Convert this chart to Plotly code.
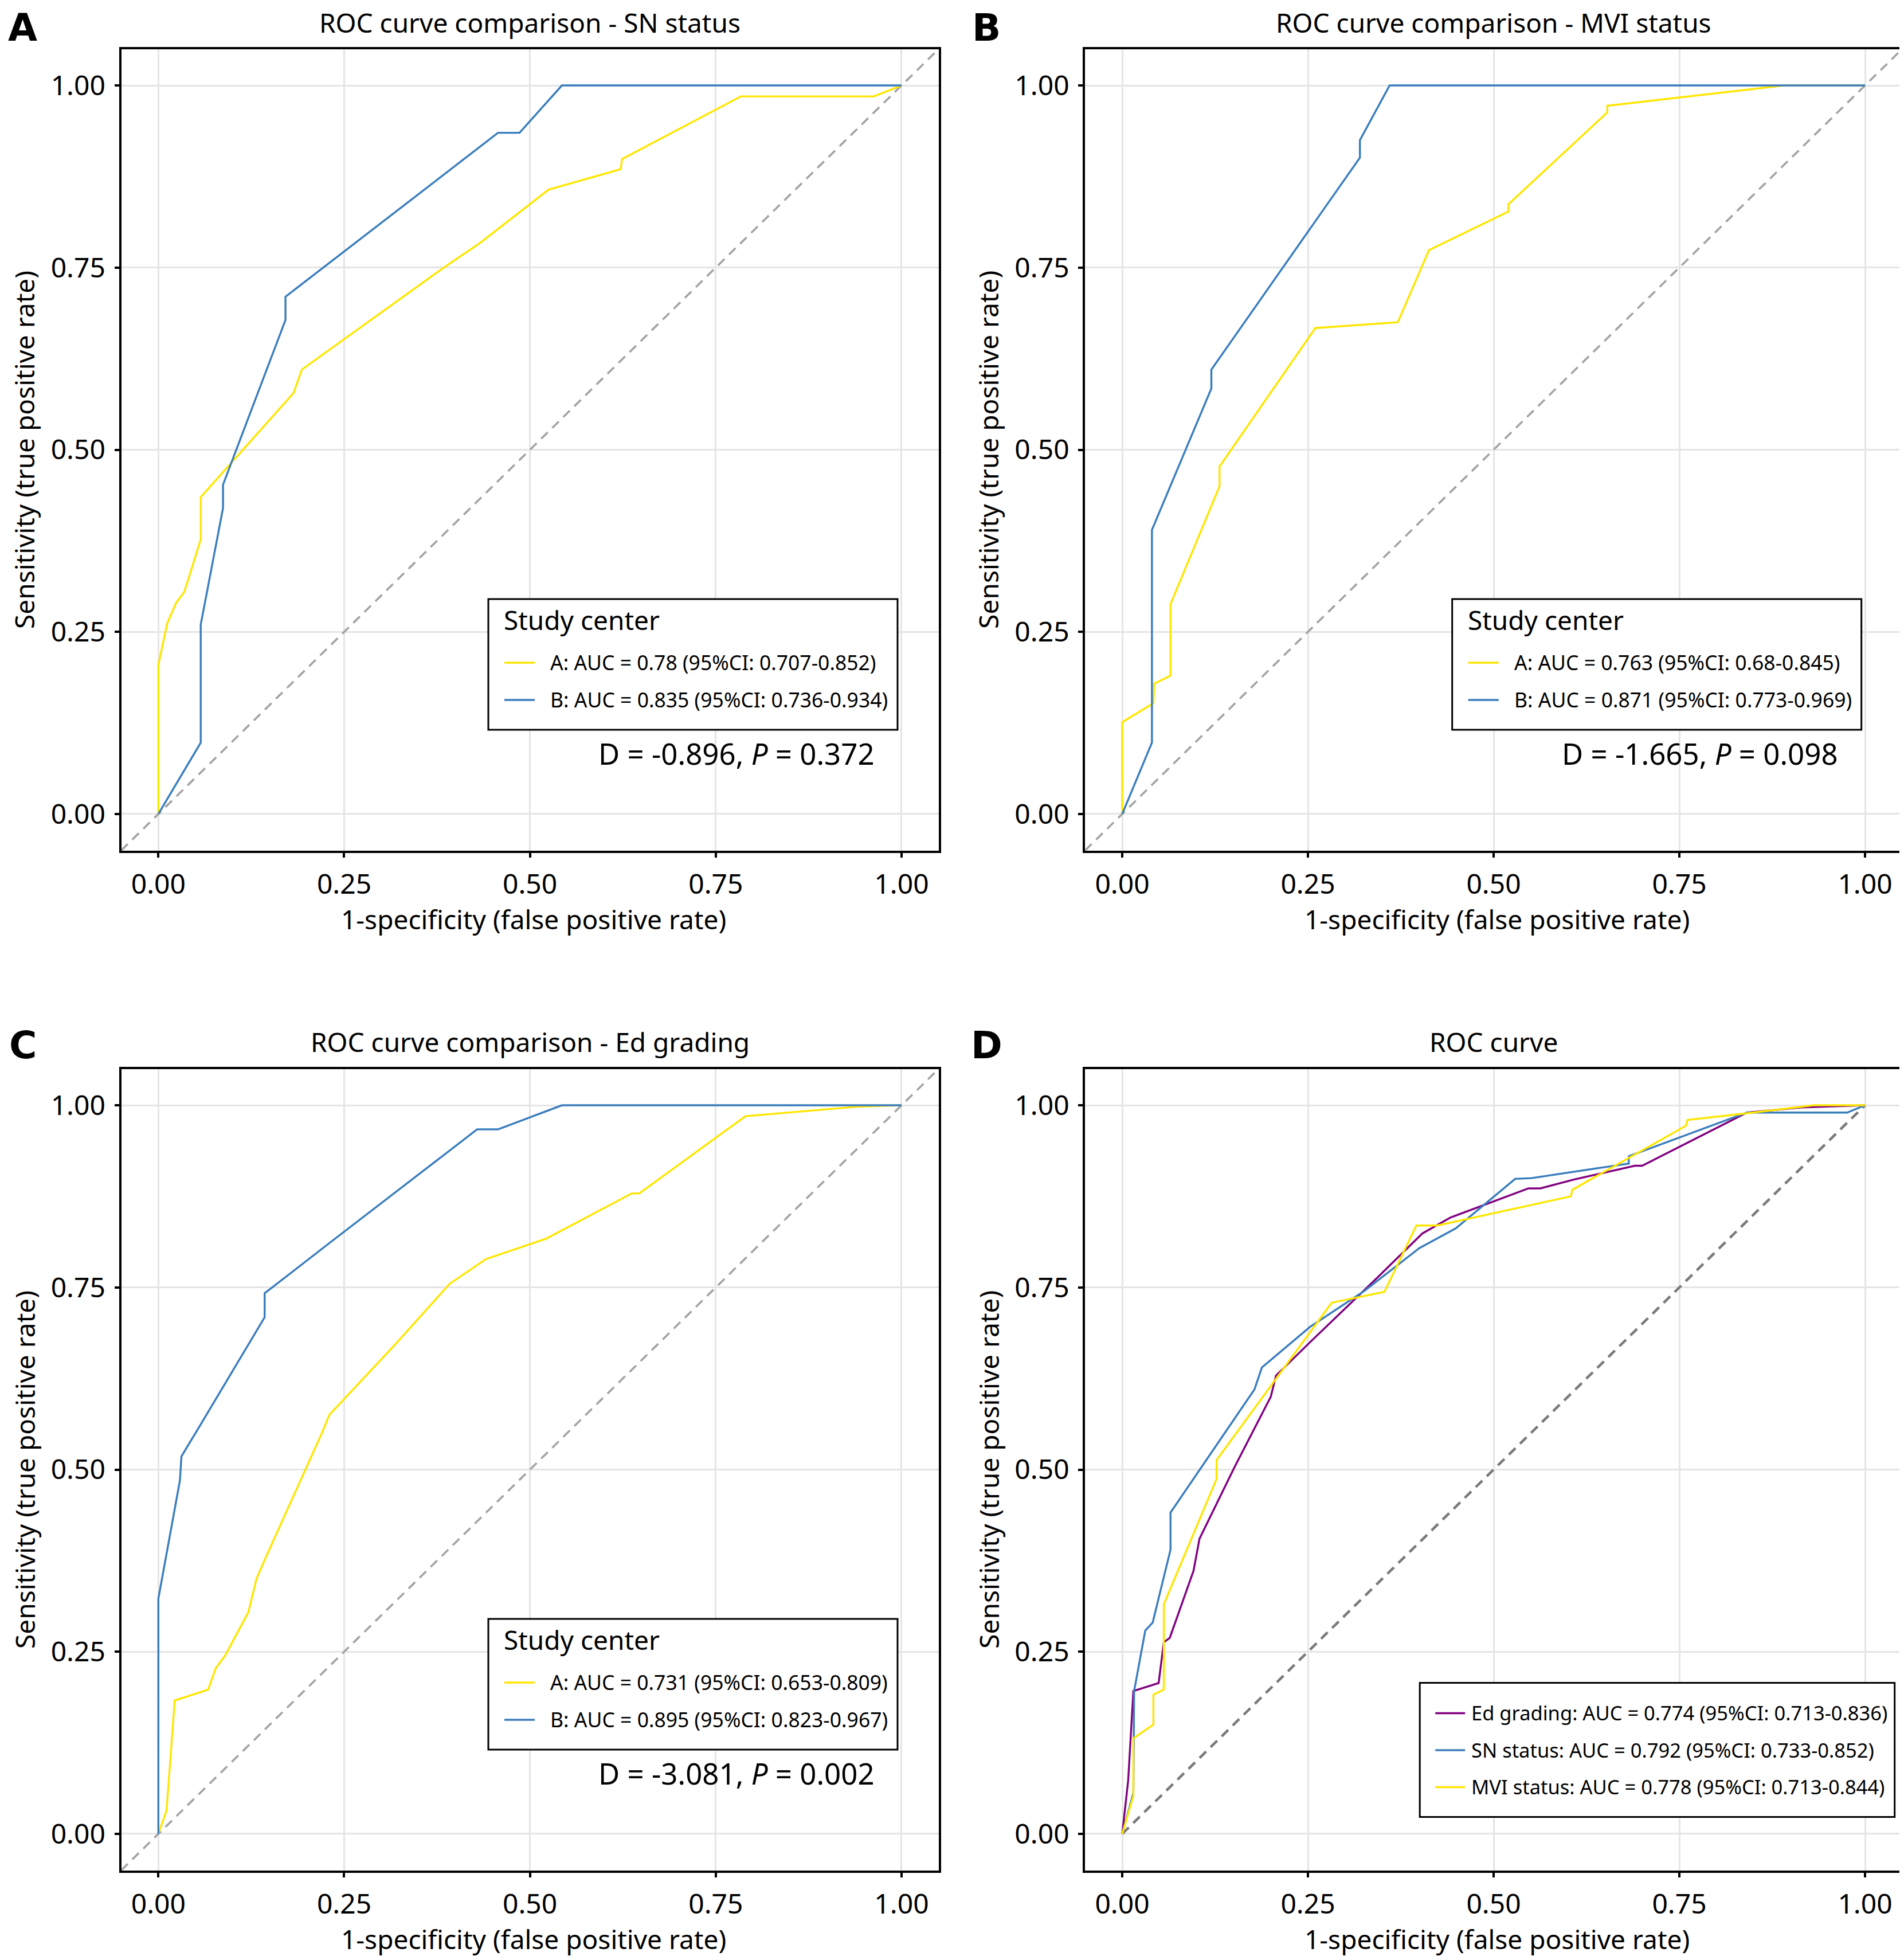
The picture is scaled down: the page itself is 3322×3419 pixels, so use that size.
import plotly.graph_objects as go

W, H = 3322, 3419
OFF = 8  # page body margin of the html page
FW, FH = W - OFF, H - OFF
FONT = "Noto Sans"

# ---------------- data ----------------
tick_vals = [0, 0.25, 0.5, 0.75, 1.0]
tick_text = ["0.00", "0.25", "0.50", "0.75", "1.00"]

# Panel A: SN status
a_centerA_fpr = [0, 0, 0.012, 0.024, 0.035, 0.057, 0.057, 0.182, 0.193, 0.384, 0.433, 0.525, 0.622, 0.624, 0.784, 0.963, 1]
a_centerA_tpr = [0, 0.205, 0.262, 0.29, 0.305, 0.377, 0.435, 0.578, 0.61, 0.75, 0.784, 0.857, 0.885, 0.899, 0.985, 0.985, 1]
a_centerB_fpr = [0, 0.057, 0.057, 0.087, 0.087, 0.171, 0.171, 0.457, 0.486, 0.543, 1]
a_centerB_tpr = [0, 0.098, 0.26, 0.42, 0.452, 0.678, 0.71, 0.935, 0.935, 1, 1]

# Panel B: MVI status
b_centerA_fpr = [0, 0, 0.042, 0.043, 0.065, 0.065, 0.131, 0.131, 0.26, 0.371, 0.413, 0.52, 0.52, 0.653, 0.653, 0.891, 1]
b_centerA_tpr = [0, 0.126, 0.152, 0.179, 0.19, 0.288, 0.45, 0.477, 0.667, 0.675, 0.774, 0.827, 0.837, 0.963, 0.972, 1, 1]
b_centerB_fpr = [0, 0.04, 0.04, 0.12, 0.12, 0.32, 0.32, 0.36, 1]
b_centerB_tpr = [0, 0.098, 0.39, 0.584, 0.61, 0.901, 0.925, 1, 1]

# Panel C: Ed grading
c_centerA_fpr = [0, 0.011, 0.022, 0.067, 0.077, 0.09, 0.121, 0.132, 0.143, 0.22, 0.23, 0.318, 0.392, 0.441, 0.522, 0.637, 0.647, 0.79, 0.939, 1]
c_centerA_tpr = [0, 0.032, 0.183, 0.198, 0.227, 0.245, 0.304, 0.35, 0.376, 0.55, 0.575, 0.671, 0.755, 0.789, 0.817, 0.879, 0.879, 0.985, 0.998, 1]
c_centerB_fpr = [0, 0, 0.029, 0.031, 0.057, 0.143, 0.143, 0.229, 0.429, 0.457, 0.543, 1]
c_centerB_tpr = [0, 0.323, 0.485, 0.518, 0.562, 0.709, 0.742, 0.81, 0.967, 0.967, 1, 1]

# Panel D: overall ROC
d_ed_fpr = [0, 0.008, 0.015, 0.049, 0.056, 0.064, 0.096, 0.104, 0.151, 0.2, 0.207, 0.253, 0.343, 0.404, 0.442, 0.547, 0.563, 0.608, 0.69, 0.7, 0.841, 0.914, 1]
d_ed_tpr = [0, 0.073, 0.196, 0.207, 0.263, 0.269, 0.361, 0.405, 0.503, 0.6, 0.629, 0.675, 0.763, 0.824, 0.846, 0.886, 0.886, 0.898, 0.917, 0.917, 0.99, 0.997, 1]
d_sn_fpr = [0, 0.015, 0.016, 0.031, 0.041, 0.065, 0.065, 0.178, 0.188, 0.253, 0.327, 0.4, 0.449, 0.529, 0.551, 0.682, 0.682, 0.841, 0.976, 1]
d_sn_tpr = [0, 0.056, 0.196, 0.279, 0.29, 0.39, 0.441, 0.61, 0.64, 0.696, 0.746, 0.804, 0.831, 0.899, 0.9, 0.92, 0.93, 0.99, 0.99, 1]
d_mvi_fpr = [0, 0.015, 0.015, 0.042, 0.042, 0.056, 0.056, 0.127, 0.127, 0.282, 0.353, 0.396, 0.424, 0.604, 0.606, 0.759, 0.761, 0.833, 0.931, 1]
d_mvi_tpr = [0, 0.052, 0.131, 0.15, 0.191, 0.198, 0.315, 0.487, 0.513, 0.729, 0.744, 0.835, 0.835, 0.875, 0.884, 0.972, 0.98, 0.988, 1, 1]

diag_full = [-0.05, 1.05]
diag_unit = [0, 1]

panel_titles = ["ROC curve comparison - SN status", "ROC curve comparison - MVI status",
                "ROC curve comparison - Ed grading", "ROC curve"]
panel_letters = ["A", "B", "C", "D"]
legend_title = "Study center"
legend_A_names = ["A: AUC = 0.78 (95%CI: 0.707-0.852)", "B: AUC = 0.835 (95%CI: 0.736-0.934)"]
legend_B_names = ["A: AUC = 0.763 (95%CI: 0.68-0.845)", "B: AUC = 0.871 (95%CI: 0.773-0.969)"]
legend_C_names = ["A: AUC = 0.731 (95%CI: 0.653-0.809)", "B: AUC = 0.895 (95%CI: 0.823-0.967)"]
legend_D_names = ["Ed grading: AUC = 0.774 (95%CI: 0.713-0.836)",
                  "SN status: AUC = 0.792 (95%CI: 0.733-0.852)",
                  "MVI status: AUC = 0.778 (95%CI: 0.713-0.844)"]
delong_texts = ["D = -0.896, <i>P</i> = 0.372", "D = -1.665, <i>P</i> = 0.098", "D = -3.081, <i>P</i> = 0.002"]
x_title = "1-specificity (false positive rate)"
y_title = "Sensitivity (true positive rate)"

# ---------------- styles ----------------
YELLOW = "#FFE600"
BLUE = "#3A7DBD"
PURPLE = "#800080"
LW = 3.4

# pixel geometry (page pixels, origin top-left)
col_px = [(211.5, 1637.8), (1893.2, 3318.8)]
row_px = [(85.5, 1483.5), (1864.5, 3262.5)]


def px_x(p):
    return (p - OFF) / FW


def px_y(p):
    return 1 - (p - OFF) / FH


fig = go.Figure()

panels = [
    (0, 0, [(a_centerA_fpr, a_centerA_tpr, YELLOW, legend_A_names[0]), (a_centerB_fpr, a_centerB_tpr, BLUE, legend_A_names[1])]),
    (0, 1, [(b_centerA_fpr, b_centerA_tpr, YELLOW, legend_B_names[0]), (b_centerB_fpr, b_centerB_tpr, BLUE, legend_B_names[1])]),
    (1, 0, [(c_centerA_fpr, c_centerA_tpr, YELLOW, legend_C_names[0]), (c_centerB_fpr, c_centerB_tpr, BLUE, legend_C_names[1])]),
    (1, 1, [(d_ed_fpr, d_ed_tpr, PURPLE, legend_D_names[0]), (d_sn_fpr, d_sn_tpr, BLUE, legend_D_names[1]), (d_mvi_fpr, d_mvi_tpr, YELLOW, legend_D_names[2])]),
]

annotations = []
shapes = []
for i, (r, c, curves) in enumerate(panels):
    n = i + 1
    xa = "x" if n == 1 else f"x{n}"
    ya = "y" if n == 1 else f"y{n}"
    # diagonal reference
    if n < 4:
        fig.add_trace(go.Scatter(x=diag_full, y=diag_full, mode="lines", xaxis=xa, yaxis=ya,
                                 line=dict(color="#A3A3A3", width=3.6, dash="16px,11px"),
                                 showlegend=False, hoverinfo="skip"))
    else:
        fig.add_trace(go.Scatter(x=diag_unit, y=diag_unit, mode="lines", xaxis=xa, yaxis=ya,
                                 line=dict(color="#7A7A7A", width=4.5, dash="16px,11px"),
                                 showlegend=False, hoverinfo="skip"))
    for k, (fx, ty, colr, name) in enumerate(curves):
        fig.add_trace(go.Scatter(x=fx, y=ty, mode="lines", name=name, xaxis=xa, yaxis=ya,
                                 line=dict(color=colr, width=LW), showlegend=False))

    x0, x1 = col_px[c]
    y0, y1 = row_px[r]
    axis_common = dict(range=[-0.05, 1.05], tickvals=tick_vals, ticktext=tick_text,
                       showgrid=True, gridcolor="#E5E5E5", gridwidth=2.7, zeroline=False,
                       showline=True, linecolor="black", linewidth=4, mirror=True,
                       ticks="outside", ticklen=8, tickwidth=4, tickcolor="black",
                       tickfont=dict(family=FONT, size=48, color="black"))
    fig.layout[f"xaxis{'' if n == 1 else n}"] = dict(axis_common, domain=[px_x(x0), px_x(x1)], anchor=ya,
                                                      ticklabelstandoff=6)
    fig.layout[f"yaxis{'' if n == 1 else n}"] = dict(axis_common, domain=[px_y(y1), px_y(y0)], anchor=xa,
                                                      ticklabelstandoff=6)

    cx = (x0 + x1) / 2
    cy = (y0 + y1) / 2
    # panel title
    annotations.append(dict(text=panel_titles[i], x=px_x(cx), y=px_y(y0 - 47), xref="paper", yref="paper",
                            showarrow=False, xanchor="center", yanchor="middle",
                            font=dict(family=FONT, size=46, color="black")))
    # panel letter
    annotations.append(dict(text=f"<b>{panel_letters[i]}</b>", x=px_x(x0 - 172), y=px_y(max(y0 - 81.5, OFF)),
                            xref="paper", yref="paper", showarrow=False, xanchor="center", yanchor="top",
                            font=dict(family="DejaVu Sans", size=66, color="black")))
    # axis titles
    annotations.append(dict(text=x_title, x=px_x(cx + 6), y=px_y(y1 + 119), xref="paper", yref="paper",
                            showarrow=False, xanchor="center", yanchor="middle",
                            font=dict(family=FONT, size=46, color="black")))
    annotations.append(dict(text=y_title, x=px_x(x0 - 169), y=px_y(cy), xref="paper", yref="paper",
                            showarrow=False, xanchor="center", yanchor="middle", textangle=-90,
                            font=dict(family=FONT, size=46, color="black")))
    if n < 4:
        annotations.append(dict(text=delong_texts[i], x=px_x(x0 + 1073), y=px_y(y0 + 1228),
                                xref="paper", yref="paper", showarrow=False, xanchor="center", yanchor="middle",
                                font=dict(family=FONT, size=51, color="black")))

    # ---- legend key box inside the panel ----
    if n < 4:
        lx0 = x0 + 640.5
        ly0 = y0 + 959.5
        lx1 = lx0 + 714
        ly1 = ly0 + 228
        shapes.append(dict(type="rect", xref="paper", yref="paper", x0=px_x(lx0), x1=px_x(lx1),
                           y0=px_y(ly1), y1=px_y(ly0), line=dict(color="black", width=3),
                           fillcolor="white", layer="above"))
        annotations.append(dict(text=legend_title, x=px_x(lx0 + 25), y=px_y(ly0 + 36), xref="paper", yref="paper",
                                showarrow=False, xanchor="left", yanchor="middle",
                                font=dict(family=FONT, size=46, color="black")))
        item_y = [ly0 + 111, ly0 + 176]
        for k, (fx, ty, colr, name) in enumerate(curves):
            shapes.append(dict(type="line", xref="paper", yref="paper", x0=px_x(lx0 + 28), x1=px_x(lx0 + 81),
                               y0=px_y(item_y[k]), y1=px_y(item_y[k]), line=dict(color=colr, width=LW),
                               layer="above"))
            annotations.append(dict(text=name, x=px_x(lx0 + 106), y=px_y(item_y[k] - 1), xref="paper", yref="paper",
                                    showarrow=False, xanchor="left", yanchor="middle",
                                    font=dict(family=FONT, size=35.5, color="black")))
    else:
        lx0 = x0 + 584
        ly0 = y0 + 1071
        lx1 = x0 + 1412.5
        ly1 = y0 + 1305
        shapes.append(dict(type="rect", xref="paper", yref="paper", x0=px_x(lx0), x1=px_x(lx1),
                           y0=px_y(ly1), y1=px_y(ly0), line=dict(color="black", width=3),
                           fillcolor="white", layer="above"))
        item_y = [ly0 + 53, ly0 + 117.5, ly0 + 182]
        for k, (fx, ty, colr, name) in enumerate(curves):
            shapes.append(dict(type="line", xref="paper", yref="paper", x0=px_x(lx0 + 27), x1=px_x(lx0 + 79),
                               y0=px_y(item_y[k]), y1=px_y(item_y[k]), line=dict(color=colr, width=LW),
                               layer="above"))
            annotations.append(dict(text=name, x=px_x(lx0 + 88), y=px_y(item_y[k] - 1), xref="paper", yref="paper",
                                    showarrow=False, xanchor="left", yanchor="middle",
                                    font=dict(family=FONT, size=34.5, color="black")))

fig.update_layout(
    width=FW, height=FH,
    margin=dict(l=0, r=0, t=0, b=0),
    paper_bgcolor="white", plot_bgcolor="white",
    showlegend=False,
    annotations=annotations,
    shapes=shapes,
)

fig.write_html("out.html")
